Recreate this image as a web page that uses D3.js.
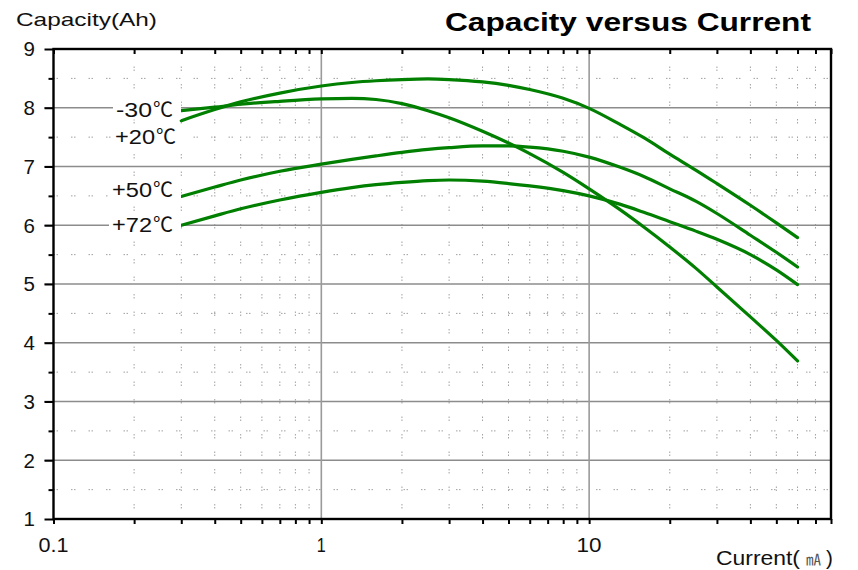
<!DOCTYPE html>
<html><head><meta charset="utf-8">
<script src="https://cdn.jsdelivr.net/npm/d3@7"></script>
<style>
html,body{margin:0;padding:0;background:#fff;}
svg{display:block;font-family:"Liberation Sans",Arial,"Noto Sans CJK SC",sans-serif;}
</style></head><body>
<svg id="chart" width="858" height="570"></svg>
<script>
// ---- data ----
const currents = [0.3, 0.4, 0.5, 0.7, 1, 1.3, 1.6, 2, 2.5, 3, 4, 5, 6, 8, 10, 13, 16, 20, 25, 30, 40, 50, 60];
const capMinus30 = [7.95, 8.01, 8.06, 8.11, 8.15, 8.16, 8.14, 8.07, 7.95, 7.83, 7.60, 7.40, 7.22, 6.90, 6.62, 6.27, 5.97, 5.63, 5.27, 4.95, 4.44, 4.04, 3.69];
const capPlus20  = [7.78, 7.97, 8.10, 8.25, 8.37, 8.43, 8.46, 8.48, 8.49, 8.48, 8.44, 8.38, 8.31, 8.16, 7.99, 7.72, 7.49, 7.21, 6.94, 6.71, 6.34, 6.04, 5.79];
const capPlus50  = [6.49, 6.65, 6.77, 6.92, 7.04, 7.12, 7.18, 7.24, 7.29, 7.32, 7.35, 7.35, 7.33, 7.26, 7.16, 6.99, 6.83, 6.62, 6.41, 6.20, 5.83, 5.54, 5.29];
const capPlus72  = [6.00, 6.16, 6.28, 6.43, 6.56, 6.64, 6.69, 6.73, 6.76, 6.77, 6.75, 6.71, 6.67, 6.59, 6.50, 6.36, 6.22, 6.06, 5.90, 5.76, 5.50, 5.24, 4.99];
const seriesLabels = ["-30", "+20", "+50", "+72"];
const degSymbol = "\u2103";
const labelValues = [7.97, 7.5, 6.6, 6.0];
const yTickValues = [1, 2, 3, 4, 5, 6, 7, 8, 9];
const xTickValues = [0.1, 1, 10];
const titleText = "Capacity versus Current";
const yTitle = "Capacity(Ah)";
const xTitle = "Current(";
const xUnit = "\u3383";

// ---- layout ----
const svg = d3.select("#chart");
const L = 53.5, R = 831, T = 49, B = 519;
const x = d3.scaleLog().domain([0.1, 80]).range([L, R]);
const y = d3.scaleLinear().domain([1, 9]).range([B, T]);

const minorX = [];
[0.1, 1, 10].forEach(d => { for (let k = 2; k <= 9; k++) { const v = d * k; if (v <= 80) minorX.push(v); } });
const minorY = d3.range(1.5, 9, 1);

const grid = svg.append("g");
grid.selectAll(".mx").data(minorX.filter(v => v < 80)).enter().append("line")
  .attr("x1", d => x(d)).attr("x2", d => x(d)).attr("y1", T).attr("y2", B)
  .attr("stroke", "#a0a0a0").attr("stroke-width", 1).attr("stroke-dasharray", "1.5,1.5,1.5,13");
grid.selectAll(".my").data(minorY).enter().append("line")
  .attr("x1", L).attr("x2", R).attr("y1", d => y(d)).attr("y2", d => y(d))
  .attr("stroke", "#a0a0a0").attr("stroke-width", 1).attr("stroke-dasharray", "1.5,1.5,1.5,13");
grid.selectAll(".gy").data(yTickValues.filter(v => v > 1 && v < 9)).enter().append("line")
  .attr("x1", L - 9).attr("x2", R).attr("y1", d => y(d)).attr("y2", d => y(d))
  .attr("stroke", "#8c8c8c").attr("stroke-width", 1.3);
grid.selectAll(".gx").data([1, 10]).enter().append("line")
  .attr("x1", d => x(d)).attr("x2", d => x(d)).attr("y1", T).attr("y2", B)
  .attr("stroke", "#9a9a9a").attr("stroke-width", 1.6);

// curves
const series = [capMinus30, capPlus20, capPlus50, capPlus72];
const line = d3.line().x((d, i) => x(currents[i])).y(d => y(d)).curve(d3.curveMonotoneX);
svg.append("g").selectAll("path").data(series).enter().append("path")
  .attr("d", d => line(d)).attr("fill", "none")
  .attr("stroke", "#007f00").attr("stroke-width", 3.2).attr("stroke-linecap", "round");

// axes
const styleAxis = g => { g.select(".domain").remove(); g.selectAll("line").attr("stroke", "#000").attr("stroke-width", 2); };
svg.append("g").attr("transform", `translate(0,${B})`)
  .call(d3.axisBottom(x).tickValues(minorX.concat(xTickValues)).tickSize(5).tickFormat("")).call(styleAxis);
svg.append("g").attr("transform", `translate(0,${T})`)
  .call(d3.axisBottom(x).tickValues(minorX.concat(xTickValues)).tickSize(5).tickFormat("")).call(styleAxis);
svg.append("g").attr("transform", `translate(${L},0)`)
  .call(d3.axisLeft(y).tickValues(yTickValues).tickSize(9).tickFormat("")).call(styleAxis);
svg.append("g").attr("transform", `translate(${L},0)`)
  .call(d3.axisLeft(y).tickValues(minorY).tickSize(5).tickFormat("")).call(styleAxis);

svg.append("rect").attr("x", L).attr("y", T).attr("width", R - L).attr("height", B - T)
  .attr("fill", "none").attr("stroke", "#000").attr("stroke-width", 2.4);

// tick labels
svg.append("g").selectAll("text").data(yTickValues).enter().append("text")
  .attr("x", 35).attr("y", d => y(d)).attr("dy", "0.36em").attr("text-anchor", "end")
  .attr("font-size", 20.5).attr("fill", "#111").text(d => d);
svg.append("g").selectAll("text").data(xTickValues).enter().append("text")
  .attr("x", d => x(d)).attr("y", 552).attr("text-anchor", "middle")
  .attr("font-size", 21).attr("fill", "#111").text(d => d3.format("~g")(d))
  .each(function(d){ const w = {0.1:30, 1:9, 10:25}[d]; d3.select(this).attr("textLength", w).attr("lengthAdjust","spacingAndGlyphs"); });

// curve labels
const lab = svg.append("g");
const numWidths = [36, 40, 40, 40];
seriesLabels.forEach((t, i) => {
  const cy = y(labelValues[i]);
  const right = i === 1 ? 176 : 173;
  lab.append("rect").attr("x", right - numWidths[i] - 24).attr("y", cy - 10).attr("width", numWidths[i] + 32).attr("height", 20).attr("fill", "#fff");
  const tx = lab.append("text").attr("x", right - 21 - numWidths[i]).attr("y", cy).attr("dy", "0.36em")
    .attr("font-size", 20).attr("fill", "#111");
  tx.append("tspan").attr("textLength", numWidths[i]).attr("lengthAdjust", "spacingAndGlyphs").text(t);
  tx.append("tspan").attr("font-family", "'Noto Sans CJK SC',sans-serif").attr("font-size", 20).attr("dx", 1).text(degSymbol);
});

// titles
svg.append("text").attr("x", 16).attr("y", 26).attr("font-size", 19).attr("fill", "#111")
  .attr("textLength", 141).attr("lengthAdjust", "spacingAndGlyphs").text(yTitle);
svg.append("text").attr("x", 445).attr("y", 31).attr("font-size", 26).attr("font-weight", "bold").attr("fill", "#000")
  .attr("textLength", 366).attr("lengthAdjust", "spacingAndGlyphs").text(titleText);
const xt = svg.append("text").attr("x", 716).attr("y", 565).attr("font-size", 20.5).attr("fill", "#111");
xt.append("tspan").attr("textLength", 84).attr("lengthAdjust", "spacingAndGlyphs").text(xTitle);
xt.append("tspan").attr("font-size", 15).attr("fill", "#555").attr("font-family", "'Noto Sans CJK JP','Noto Sans CJK SC',sans-serif").attr("dx", 6).text(xUnit);
xt.append("tspan").attr("dx", 5).text(")");
</script>
</body></html>
